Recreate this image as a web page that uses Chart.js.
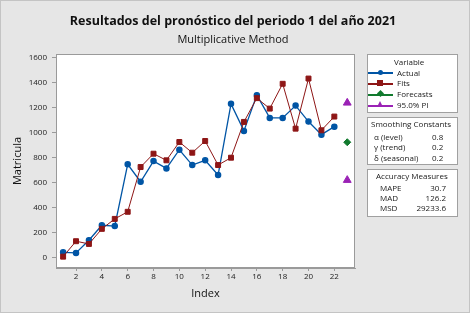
<!DOCTYPE html>
<html>
<head>
<meta charset="utf-8">
<script src="https://cdn.jsdelivr.net/npm/chart.js@4.4.1/dist/chart.umd.min.js"></script>
<style>
body { margin: 0; }
#wrap { position: relative; width: 470px; height: 313px; background: #e6e6e6; font-family: "Open Sans", sans-serif; overflow: hidden; }
#wrap canvas { position: absolute; left: 0; top: 0; }
#frame { position: absolute; left: 0; top: 0; width: 470px; height: 313px; box-sizing: border-box; border: 1px solid #c4c4c4; pointer-events: none; }
.title { position: absolute; left: 0; width: 466px; text-align: center; color: #111; white-space: nowrap; }
.box { position: absolute; left: 367px; width: 91px; background: #fff; border: 1px solid #a0a0a0; box-sizing: border-box; }
.t { position: absolute; font-size: 8px; line-height: 10px; color: #1a1a1a; white-space: nowrap; }
.r { text-align: right; }
.ln { position: absolute; height: 1.5px; width: 25px; left: 368px; }
.mk { position: absolute; }
</style>
</head>
<body>
<div id="wrap">
  <canvas id="chart" width="470" height="313"></canvas>

  <div class="title" style="top:12px;font-size:12.5px;font-weight:bold;line-height:18px">Resultados del pronóstico del periodo 1 del año 2021</div>
  <div class="title" style="top:31px;font-size:11px;line-height:15px">Multiplicative Method</div>

  <div class="box" style="top:54px;height:59px"></div>
  <div class="box" style="top:117px;height:48px"></div>
  <div class="box" style="top:169px;height:48px"></div>

  <div class="t" style="left:394px;top:57px">Variable</div>

  <div class="ln" style="top:72px;background:#0055a5"></div>
  <div class="mk" style="left:378px;top:70px;width:5px;height:5px;background:#0055a5;border-radius:50%"></div>
  <div class="t" style="left:397px;top:68px">Actual</div>

  <div class="ln" style="top:83px;background:#8e1616"></div>
  <div class="mk" style="left:377px;top:80px;width:6px;height:6px;background:#8e1616"></div>
  <div class="t" style="left:397px;top:78px">Fits</div>

  <div class="ln" style="top:94px;background:#117a2e"></div>
  <div class="mk" style="left:378px;top:91px;width:5px;height:5px;background:#117a2e;transform:rotate(45deg)"></div>
  <div class="t" style="left:397px;top:89px">Forecasts</div>

  <div class="ln" style="top:105px;background:#9a22b5"></div>
  <div class="mk" style="left:377px;top:101px;width:0;height:0;border-left:3.5px solid transparent;border-right:3.5px solid transparent;border-bottom:6px solid #9a22b5"></div>
  <div class="t" style="left:397px;top:100px">95.0% PI</div>

  <div class="t" style="left:371px;top:119px">Smoothing Constants</div>
  <div class="t" style="left:374px;top:132px">α (level)</div>
  <div class="t" style="left:432px;top:132px">0.8</div>
  <div class="t" style="left:374px;top:142px">γ (trend)</div>
  <div class="t" style="left:432px;top:142px">0.2</div>
  <div class="t" style="left:374px;top:153px">δ (seasonal)</div>
  <div class="t" style="left:432px;top:153px">0.2</div>

  <div class="t" style="left:376px;top:171px">Accuracy Measures</div>
  <div class="t" style="left:380px;top:183px">MAPE</div>
  <div class="t r" style="left:410px;width:36px;top:183px">30.7</div>
  <div class="t" style="left:380px;top:193px">MAD</div>
  <div class="t r" style="left:410px;width:36px;top:193px">126.2</div>
  <div class="t" style="left:380px;top:203px">MSD</div>
  <div class="t r" style="left:400px;width:46px;top:203px">29233.6</div>

  <div id="frame"></div>
</div>

<script>
// periods and series
const periods = [1, 2, 3, 4, 5, 6, 7, 8, 9, 10, 11, 12, 13, 14, 15, 16, 17, 18, 19, 20, 21, 22];
const actual = [40, 35, 137, 257, 250, 746, 606, 772, 713, 863, 740, 778, 660, 1231, 1014, 1301, 1118, 1118, 1217, 1089, 984, 1048];
const fits = [5, 129, 107, 228, 308, 365, 724, 831, 778, 925, 839, 933, 740, 799, 1086, 1277, 1193, 1392, 1032, 1434, 1019, 1129];
const forecastPeriods = [23];
const forecasts = [923];
const piUpper = [1239];
const piLower = [619];
const xTicks = [2, 4, 6, 8, 10, 12, 14, 16, 18, 20, 22];
const yTicks = [0, 200, 400, 600, 800, 1000, 1200, 1400, 1600];

const BLUE = '#0055a5';
const RED = '#8e1616';
const GREEN = '#117a2e';
const PURPLE = '#9a22b5';
const AXIS = '#9a9a9a';

const pairs = (xs, ys) => xs.map((x, i) => ({ x: x, y: ys[i] }));

const plotFrame = {
    id: 'plotFrame',
    beforeDatasetsDraw(chart) {
        const { ctx, chartArea: a } = chart;
        ctx.save();
        ctx.fillStyle = '#ffffff';
        ctx.fillRect(a.left, a.top, a.right - a.left, a.bottom - a.top);
        ctx.strokeStyle = AXIS;
        ctx.lineWidth = 1;
        ctx.strokeRect(a.left + 0.5, a.top + 0.5, a.right - a.left - 1, a.bottom - a.top - 1);
        ctx.restore();
    }
};

const tickFont = { family: '"Open Sans", sans-serif', size: 8 };
const titleFont = { family: '"Open Sans", sans-serif', size: 11 };

new Chart(document.getElementById('chart'), {
    type: 'line',
    data: {
        datasets: [
            {
                label: 'Fits',
                data: pairs(periods, fits),
                borderColor: RED,
                backgroundColor: RED,
                borderWidth: 1,
                pointStyle: 'rect',
                pointRadius: 3.5,
                pointHoverRadius: 3.5,
                tension: 0
            },
            {
                label: 'Actual',
                data: pairs(periods, actual),
                borderColor: BLUE,
                backgroundColor: BLUE,
                borderWidth: 1.3,
                pointStyle: 'circle',
                pointRadius: 2.6,
                pointHoverRadius: 2.6,
                tension: 0
            },
            {
                label: 'Forecasts',
                data: pairs(forecastPeriods, forecasts),
                borderColor: GREEN,
                backgroundColor: GREEN,
                pointStyle: 'rectRot',
                pointRadius: 3.5,
                showLine: false
            },
            {
                label: '95.0% PI',
                data: pairs(forecastPeriods, piUpper).concat(pairs(forecastPeriods, piLower)),
                borderColor: PURPLE,
                backgroundColor: PURPLE,
                pointStyle: 'triangle',
                pointRadius: 4.5,
                showLine: false
            }
        ]
    },
    options: {
        responsive: false,
        animation: false,
        layout: { padding: { left: 0, right: 115, top: 54, bottom: 0 } },
        plugins: {
            legend: { display: false },
            tooltip: { enabled: false }
        },
        scales: {
            x: {
                type: 'linear',
                min: 0.45,
                max: 23.6,
                afterBuildTicks: (scale) => { scale.ticks = xTicks.map(v => ({ value: v })); },
                afterFit: (scale) => { scale.height = 45; },
                grid: { drawOnChartArea: false, drawTicks: true, tickLength: 3, color: AXIS },
                border: { color: AXIS },
                ticks: { color: '#222222', font: tickFont, padding: 1, maxRotation: 0, callback: (v) => String(v) },
                title: { display: true, text: 'Index', color: '#111111', font: titleFont, padding: { top: 0, bottom: 13 } }
            },
            y: {
                type: 'linear',
                min: -86,
                max: 1631,
                afterBuildTicks: (scale) => { scale.ticks = yTicks.map(v => ({ value: v })); },
                afterFit: (scale) => { scale.width = 56; },
                grid: { drawOnChartArea: false, drawTicks: true, tickLength: 4, color: AXIS },
                border: { color: AXIS },
                ticks: { color: '#222222', font: tickFont, padding: 5, callback: (v) => String(v) },
                title: { display: true, text: 'Matricula', color: '#111111', font: titleFont, padding: { top: 11, bottom: 0 } }
            }
        }
    },
    plugins: [plotFrame]
});
</script>
</body>
</html>
